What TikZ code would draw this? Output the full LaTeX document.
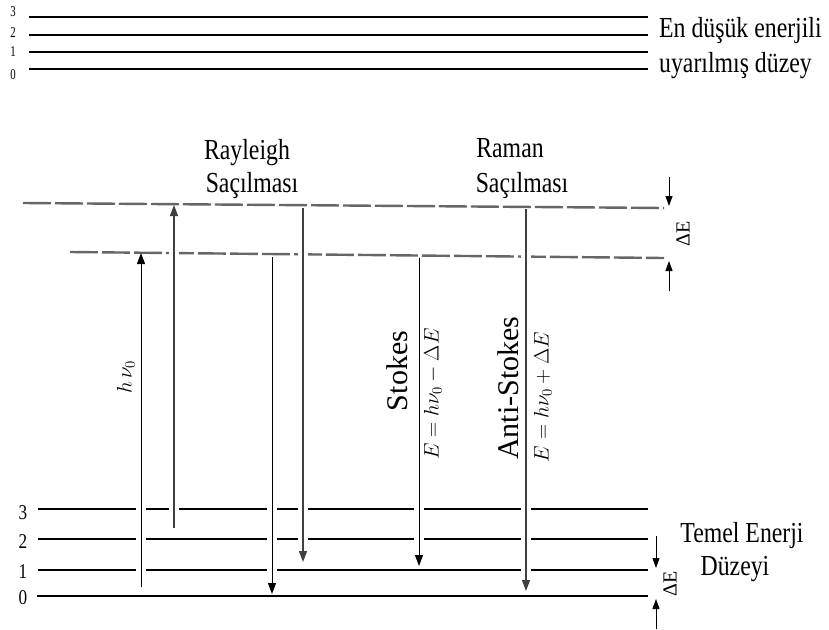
\documentclass[tikz,border=0pt]{standalone}
\usepackage{fix-cm}
\usepackage{fontspec}
\setmainfont{Liberation Serif}
\newfontfamily\narrowserif[FakeStretch=0.82]{Liberation Serif}
\newfontfamily\slimserif[FakeStretch=0.72]{Liberation Serif}
\usetikzlibrary{arrows.meta}

\begin{document}
\begin{tikzpicture}[x=1pt,y=-1pt,
  level/.style={line width=2.6pt},
  virtual/.style={draw=black!60,line width=2.4pt,dash pattern=on 28pt off 4pt},
  trans/.style={line width=1pt,-{Triangle[length=11pt,width=8pt]},
    preaction={draw=white,line width=10pt,arrows=-,shorten <=3pt,shorten >=6pt}},
  transgray/.style={trans,draw=black!75,line width=1.3pt},
  gapmark/.style={line width=1pt,-{Triangle[length=10pt,width=7pt]}},
  label/.style={inner sep=0pt,anchor=base,font=\narrowserif\fontsize{29}{32}\selectfont},
  sidelabel/.style={inner sep=0pt,anchor=base west,font=\narrowserif\fontsize{29}{32}\selectfont},
  vlabel/.style={inner sep=0pt,rotate=90,font=\fontsize{30}{34}\selectfont},
  vmath/.style={inner sep=0pt,rotate=90,font=\fontsize{21}{25}\selectfont},
  dlabel/.style={inner sep=0pt,rotate=90,font=\fontsize{20}{24}\selectfont},
  smallnum/.style={inner sep=0pt,font=\slimserif\fontsize{15}{17}\selectfont},
  num/.style={inner sep=0pt,font=\narrowserif\fontsize{21}{24}\selectfont}]
\useasboundingbox[fill=white] (0,0) rectangle (829,629);

% excited electronic state: vibrational levels 0-3
\foreach \y in {17,35,52,69}{
  \draw[level] (29,\y) -- (648,\y);
}
\node[smallnum] (eu3) at (13,12) {3};
\node[smallnum] (eu2) at (13,33) {2};
\node[smallnum] (eu1) at (13,52) {1};
\node[smallnum] (eu0) at (13,75) {0};
\node[sidelabel] (exc1) at (659,37) {En düşük enerjili};
\node[sidelabel] (exc2) at (659,72) {uyarılmış düzey};

% ground electronic state: vibrational levels 0-3
\coordinate (g3a) at (38,509); \coordinate (g3b) at (648,509);
\coordinate (g2a) at (38,539); \coordinate (g2b) at (648,539);
\coordinate (g1a) at (38,570); \coordinate (g1b) at (648,570);
\coordinate (g0a) at (37,596); \coordinate (g0b) at (648,596);
\draw[level] (g3a) -- (g3b);
\draw[level] (g2a) -- (g2b);
\draw[level] (g1a) -- (g1b);
\draw[level] (g0a) -- (g0b);
\node[num] (gn3) at (23,513) {3};
\node[num] (gn2) at (23,542) {2};
\node[num] (gn1) at (23,572) {1};
\node[num] (gn0) at (23,598) {0};
\node[label] (gs1) at (742,542) {Temel Enerji};
\node[label] (gs2) at (735,575) {Düzeyi};

% virtual levels
\coordinate (vu-a) at (23,203); \coordinate (vu-b) at (664,208);
\coordinate (vl-a) at (70,252); \coordinate (vl-b) at (664,258);
\draw[virtual] (vu-a) -- (vu-b);
\draw[virtual] (vl-a) -- (vl-b);

% transitions
\coordinate (hv-s) at (141,587); \coordinate (hv-e) at (141,253);
\coordinate (ru-s) at (174,528); \coordinate (ru-e) at (174,205);
\coordinate (rd1-s) at (272,257); \coordinate (rd1-e) at (272,594);
\coordinate (rd2-s) at (303,208); \coordinate (rd2-e) at (303,562);
\coordinate (st-s) at (419,258); \coordinate (st-e) at (419,566);
\coordinate (as-s) at (526,209); \coordinate (as-e) at (526,591);
\draw[trans] (hv-s) -- (hv-e);
\draw[transgray] (ru-s) -- (ru-e);
\draw[trans] (rd1-s) -- (rd1-e);
\draw[transgray] (rd2-s) -- (rd2-e);
\draw[trans] (st-s) -- (st-e);
\draw[transgray] (as-s) -- (as-e);

% energy gap markers
\coordinate (du1) at (669,177); \coordinate (du2) at (669,206);
\coordinate (du3) at (669,291); \coordinate (du4) at (669,261);
\draw[gapmark] (du1) -- (du2);
\draw[gapmark] (du3) -- (du4);
\node[dlabel] (dEu) at (683,234) {ΔE};
\coordinate (dl1) at (656,536); \coordinate (dl2) at (656,568);
\coordinate (dl3) at (656,629); \coordinate (dl4) at (656,599);
\draw[gapmark] (dl1) -- (dl2);
\draw[gapmark] (dl3) -- (dl4);
\node[dlabel] (dEl) at (670,584) {ΔE};

% labels
\node[label] (ray1) at (247,159) {Rayleigh};
\node[label] (ray2) at (252,192) {Saçılması};
\node[label] (ram1) at (510,157) {Raman};
\node[label] (ram2) at (522,192) {Saçılması};
\node[vmath] (hvl) at (126,377) {$h\,\nu_0$};
\node[vlabel] (stk) at (397,371) {Stokes};
\node[vmath] (stkE) at (433,394) {$E = h\nu_0 - \Delta E$};
\node[vlabel] (ast) at (508,388) {Anti-Stokes};
\node[vmath] (astE) at (543,397) {$E = h\nu_0 + \Delta E$};
\end{tikzpicture}
\end{document}
